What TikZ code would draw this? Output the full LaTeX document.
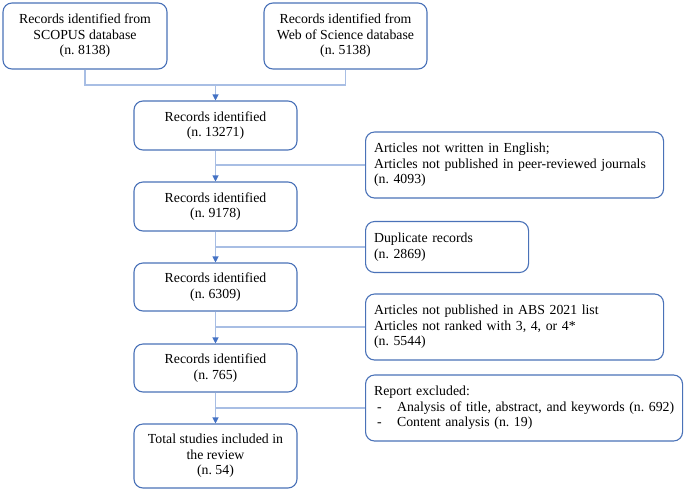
\documentclass[tikz,border=0pt]{standalone}
\usepackage{fontspec}
\setmainfont{Liberation Serif}
\usetikzlibrary{arrows.meta}
\definecolor{boxblue}{HTML}{4A72B8}
\definecolor{lineblue}{HTML}{A8BEE4}
\definecolor{tipblue}{HTML}{4472C4}
\tikzset{
  box/.style={draw=boxblue, line width=1.1pt, rounded corners=9pt, fill=white,
    font=\fontsize{13.8}{15.6}\selectfont\frenchspacing, inner sep=0pt},
  mainbox/.style={box, align=center, minimum width=163pt},
  sidebox/.style={box, align=left, inner xsep=8.5pt, anchor=west},
  link/.style={draw=lineblue, line width=1.1pt},
  arr/.style={link, -{Triangle[length=6pt,width=6pt,color=tipblue]}},
}
\begin{document}
\begin{tikzpicture}[x=1pt,y=-1pt]
\useasboundingbox (0,0) rectangle (685,491);
% top sources
\node[mainbox, minimum width=164pt, minimum height=66pt] (S) at (85,36) {Records identified from\\SCOPUS database\\(n. 8138)};
\node[mainbox, minimum height=66pt] (W) at (345.5,36) {Records identified from\\Web of Science database\\(n. 5138)};
% main column
\node[mainbox, minimum height=49pt] (A1) at (215.5,125.5) {Records identified\\(n. 13271)};
\node[mainbox, minimum height=49pt] (A2) at (215.5,206.5) {Records identified\\(n. 9178)};
\node[mainbox, minimum height=48pt] (A3) at (215.5,287) {Records identified\\(n. 6309)};
\node[mainbox, minimum height=48pt] (A4) at (215.5,368) {Records identified\\(n. 765)};
\node[mainbox, minimum height=64pt] (A5) at (215.5,456) {Total studies included in\\the review\\(n. 54)};
% side boxes
\node[sidebox, text width=281pt, minimum height=66pt] (E1) at (365,165) {Articles not written in English;\\Articles not published in peer-reviewed journals\\(n. 4093)};
\node[sidebox, text width=146pt, minimum height=51pt] (E2) at (365,247) {Duplicate records\\(n. 2869)};
\node[sidebox, text width=281pt, minimum height=66pt] (E3) at (365,327) {Articles not published in ABS 2021 list\\Articles not ranked with 3, 4, or 4*\\(n. 5544)};
\node[sidebox, text width=300pt, minimum height=66pt] (E4) at (365,408) {Report excluded:\\\hspace*{3pt}\makebox[20pt][l]{-}\mbox{Analysis of title, abstract, and keywords (n. 692)}\\\hspace*{3pt}\makebox[20pt][l]{-}Content analysis (n. 19)};
% connectors
\coordinate (J) at (215.5,85);
\draw[link] (S.south) |- (J);
\draw[link] (W.south) |- (J);
\draw[arr] (J) -- (A1.north);
\draw[arr] (A1.south) -- (A2.north);
\draw[arr] (A2.south) -- (A3.north);
\draw[arr] (A3.south) -- (A4.north);
\draw[arr] (A4.south) -- (A5.north);
\draw[link] (E1.west) -- (E1.west -| A1.south);
\draw[link] (E2.west) -- (E2.west -| A2.south);
\draw[link] (E3.west) -- (E3.west -| A3.south);
\draw[link] (E4.west) -- (E4.west -| A4.south);
\end{tikzpicture}
\end{document}
